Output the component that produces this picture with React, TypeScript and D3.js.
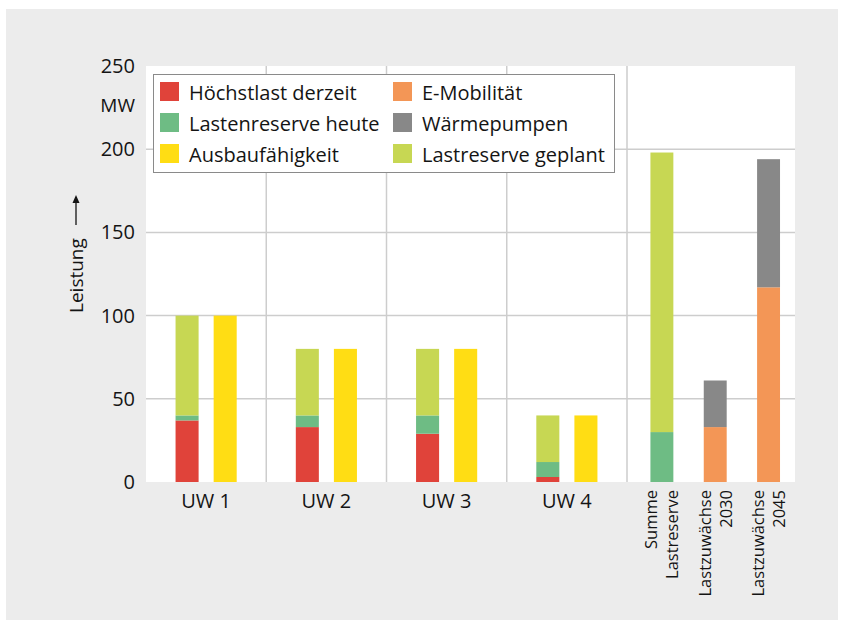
import React from 'react';
import * as d3 from 'd3';

// Umspannwerke (UW 1..4)
const uwLabels = ['UW 1', 'UW 2', 'UW 3', 'UW 4'];
const hoechstlast = [37, 33, 29, 3];
const reserveHeute = [3, 7, 11, 9];
const reserveGeplant = [60, 40, 40, 28];
const ausbau = [100, 80, 80, 40];

// Summen / Lastzuwächse
const sumLabels = [['Summe', 'Lastreserve'], ['Lastzuwächse', '2030'], ['Lastzuwächse', '2045']];
const sumReserveHeute = [30, 0, 0];
const sumReserveGeplant = [168, 0, 0];
const sumEMobilitaet = [0, 33, 117];
const sumWaermepumpen = [0, 28, 77];

const yTicks = [0, 50, 100, 150, 200, 250];

const colors = {
  hoechst: '#e0433a',
  heute: '#6ebc84',
  ausbau: '#ffdd14',
  emob: '#f39656',
  waerme: '#888888',
  geplant: '#c7d753',
};

const legendItems = [
  ['Höchstlast derzeit', colors.hoechst],
  ['Lastenreserve heute', colors.heute],
  ['Ausbaufähigkeit', colors.ausbau],
  ['E-Mobilität', colors.emob],
  ['Wärmepumpen', colors.waerme],
  ['Lastreserve geplant', colors.geplant],
];

const W = 844;
const H = 624;
const left = 146;
const right = 795;
const top = 66;
const bottom = 482;
const splitX = 627;
const font = '"Open Sans", sans-serif';
const fs = 20;
const ink = '#141414';

export default function App() {
  const y = d3.scaleLinear().domain([0, 250]).range([bottom, top]);

  const xGroup = d3.scaleBand<string>().domain(uwLabels).range([left, splitX]);
  const xInner = d3.scaleBand<string>().domain(['stack', 'ausbau'])
    .range([0, xGroup.bandwidth()]).paddingInner(0.395).paddingOuter(0.776);
  const xSum = d3.scaleBand<string>().domain(sumLabels.map(d => d.join(' ')))
    .range([splitX, right]).paddingInner(0.57).paddingOuter(0.36).align(0.61);

  const uwRows = uwLabels.map((k, i) => ({ key: k, hoechst: hoechstlast[i], heute: reserveHeute[i], geplant: reserveGeplant[i] }));
  const uwStack = d3.stack<any>().keys(['hoechst', 'heute', 'geplant'])(uwRows);

  const sumRows = sumLabels.map((l, i) => ({
    key: l.join(' '), heute: sumReserveHeute[i], geplant: sumReserveGeplant[i],
    emob: sumEMobilitaet[i], waerme: sumWaermepumpen[i],
  }));
  const sumStack = d3.stack<any>().keys(['heute', 'geplant', 'emob', 'waerme'])(sumRows);

  const vLines = [...uwLabels.slice(1).map(k => xGroup(k)!), splitX];

  return (
    <div style={{ position: 'fixed', left: 0, top: 0 }}>
      <svg width={W} height={H} style={{ display: 'block', fontFamily: font }}>
        <rect x={0} y={0} width={W} height={H} fill="#fff" />
        <rect x={6} y={9} width={832} height={611} fill="#ececec" />
        <rect x={left} y={top} width={right - left} height={bottom - top} fill="#fff" />

        {/* grid */}
        {yTicks.filter(t => t > 0 && t < 250).map(t => (
          <line key={t} x1={left} x2={right} y1={y(t)} y2={y(t)} stroke="#cdcdcd" strokeWidth={1.5} />
        ))}
        {vLines.map((x, i) => (
          <line key={i} x1={x} x2={x} y1={top} y2={bottom} stroke="#cdcdcd" strokeWidth={1.5} />
        ))}

        {/* UW stacked bars */}
        {uwStack.map(s => s.map((d, i) => (
          <rect key={s.key + i} x={xGroup(uwLabels[i])! + xInner('stack')!} width={xInner.bandwidth()}
            y={y(d[1])} height={y(d[0]) - y(d[1])} fill={(colors as any)[s.key]} />
        )))}
        {ausbau.map((v, i) => (
          <rect key={'a' + i} x={xGroup(uwLabels[i])! + xInner('ausbau')!} width={xInner.bandwidth()}
            y={y(v)} height={y(0) - y(v)} fill={colors.ausbau} />
        ))}

        {/* summary bars */}
        {sumStack.map(s => s.map((d, i) => d[1] > d[0] ? (
          <rect key={s.key + i} x={xSum(sumRows[i].key)!} width={xSum.bandwidth()}
            y={y(d[1])} height={y(d[0]) - y(d[1])} fill={(colors as any)[s.key]} />
        ) : null))}

        {/* y ticks */}
        {yTicks.map(t => (
          <text key={t} x={135} y={y(t)} dy="0.35em" textAnchor="end" fontSize={fs} fill={ink}>{t}</text>
        ))}
        <text x={135} y={y(250) + 39} dy="0.35em" textAnchor="end" fontSize={fs - 1} fill={ink}>MW</text>

        {/* y title */}
        <g transform={`translate(76,313) rotate(-90)`}>
          <text x={0} y={0} dy="0.35em" fontSize={fs - 1} fill={ink}>Leistung</text>
          <line x1={88} x2={116} y1={0} y2={0} stroke={ink} strokeWidth={1.3} />
          <path d="M118,0 L110,-3.5 L110,3.5 Z" fill={ink} />
        </g>

        {/* x labels */}
        {uwLabels.map(k => (
          <text key={k} x={xGroup(k)! + xGroup.bandwidth() / 2} y={508} textAnchor="middle" fontSize={fs} fill={ink}>{k}</text>
        ))}
        {sumLabels.map(l => {
          const cx = xSum(l.join(' '))! + xSum.bandwidth() / 2;
          return l.map((t, j) => (
            <text key={t + j} transform={`translate(${cx - 10.5 + j * 21},490) rotate(-90)`} dy="0.35em"
              textAnchor="end" fontSize={16.5} fill={ink}>{t}</text>
          ));
        })}

        {/* legend */}
        <rect x={153.5} y={74.5} width={461} height={98} fill="#fff" stroke="#8a8a8a" strokeWidth={1} />
        {legendItems.map(([label, c], i) => {
          const col = Math.floor(i / 3);
          const row = i % 3;
          const lx = 160 + col * 233;
          const ly = 82 + row * 31;
          return (
            <g key={label}>
              <rect x={lx} y={ly} width={19} height={19} fill={c} />
              <text x={lx + 29} y={ly + 18} fontSize={fs} fill={ink}>{label}</text>
            </g>
          );
        })}
      </svg>
    </div>
  );
}
